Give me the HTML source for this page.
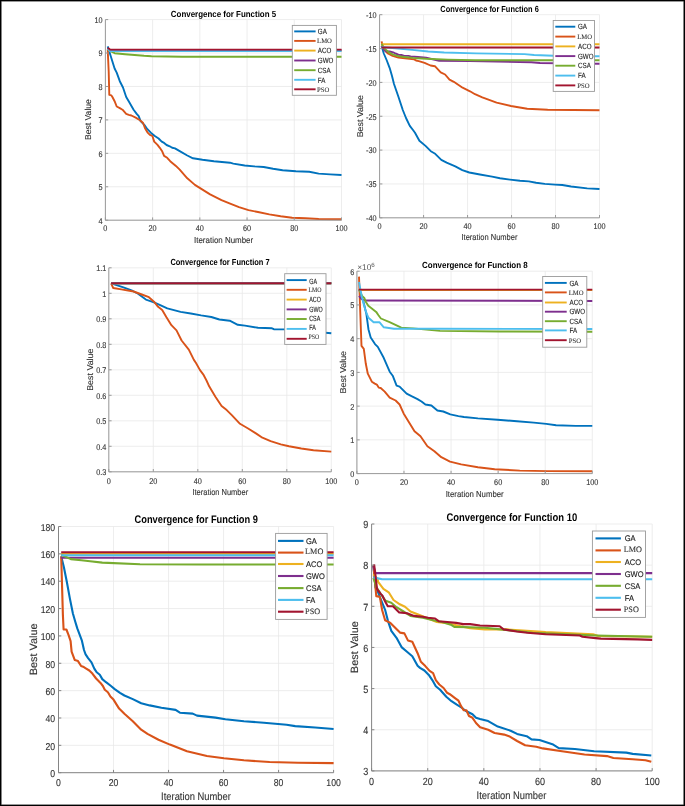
<!DOCTYPE html><html><head><meta charset="utf-8"><style>html,body{margin:0;padding:0;background:#fff}#fig{position:relative;width:685px;height:806px;overflow:hidden;background:#fff}#fig svg{position:absolute;left:0;top:0;text-rendering:geometricPrecision}#frame{position:absolute;left:0;top:0;width:685px;height:806px;box-sizing:border-box;border:1px solid #000;box-shadow:inset 0 0 0 0.6px #333}</style></head><body><div id="fig">
<svg width="685" height="806" viewBox="0 0 685 806" style="will-change:transform">
<g stroke="#e8e8e8" stroke-width="0.8" fill="none"><line x1="105.40" y1="19.60" x2="105.40" y2="220.20"/><line x1="152.62" y1="19.60" x2="152.62" y2="220.20"/><line x1="199.84" y1="19.60" x2="199.84" y2="220.20"/><line x1="247.06" y1="19.60" x2="247.06" y2="220.20"/><line x1="294.28" y1="19.60" x2="294.28" y2="220.20"/><line x1="341.50" y1="19.60" x2="341.50" y2="220.20"/><line x1="105.40" y1="220.20" x2="341.50" y2="220.20"/><line x1="105.40" y1="186.77" x2="341.50" y2="186.77"/><line x1="105.40" y1="153.33" x2="341.50" y2="153.33"/><line x1="105.40" y1="119.90" x2="341.50" y2="119.90"/><line x1="105.40" y1="86.47" x2="341.50" y2="86.47"/><line x1="105.40" y1="53.03" x2="341.50" y2="53.03"/><line x1="105.40" y1="19.60" x2="341.50" y2="19.60"/></g>
<path d="M107.7,46.4 L110.3,54.8 L114.6,68.5 L116.7,72.7 L119.8,81.2 L123.0,87.5 L126.2,97.0 L129.3,102.3 L133.6,109.7 L136.7,113.9 L138.7,116.2 L140.6,121.2 L144.3,124.9 L147.4,129.2 L151.1,132.9 L154.8,136.0 L158.6,138.5 L161.7,141.6 L164.1,142.9 L166.6,145.0 L169.7,146.3 L172.2,147.8 L175.0,148.4 L179.7,151.1 L187.3,155.5 L193.0,158.3 L202.5,159.8 L213.9,161.2 L230.0,162.7 L233.3,163.6 L244.7,165.5 L254.2,166.4 L263.7,167.0 L273.1,168.7 L282.6,170.2 L295.9,171.2 L309.2,171.7 L318.7,173.6 L330.1,174.4 L341.5,175.0" fill="none" stroke="#0072BD" stroke-width="1.9" stroke-linejoin="round" stroke-linecap="butt"/>
<path d="M107.7,49.5 L108.7,71.7 L109.3,94.9 L111.4,95.4 L112.4,97.0 L114.6,101.2 L116.7,106.5 L119.8,108.1 L122.5,109.7 L126.2,113.9 L128.8,114.9 L131.4,115.5 L135.7,117.6 L140.0,120.2 L143.1,123.0 L144.9,128.0 L147.4,132.3 L149.9,134.8 L152.4,136.0 L154.2,141.6 L157.3,144.7 L159.8,147.8 L162.3,151.6 L164.1,155.9 L167.2,157.8 L170.2,161.2 L175.9,165.9 L179.7,169.7 L187.3,178.3 L194.9,184.9 L202.5,189.6 L210.1,194.4 L221.5,200.1 L229.5,203.4 L239.0,207.2 L248.5,210.1 L258.0,212.0 L269.3,214.4 L280.7,216.2 L292.1,217.7 L305.4,218.2 L318.7,219.0 L341.5,219.2" fill="none" stroke="#D95319" stroke-width="1.9" stroke-linejoin="round" stroke-linecap="butt"/>
<path d="M107.7,49.0 L110.0,50.6 L341.5,50.6" fill="none" stroke="#EDB120" stroke-width="1.9" stroke-linejoin="round" stroke-linecap="butt"/>
<path d="M107.7,48.5 L110.0,50.2 L341.5,50.2" fill="none" stroke="#7E2F8E" stroke-width="1.9" stroke-linejoin="round" stroke-linecap="butt"/>
<path d="M107.7,49.5 L111.0,51.5 L114.6,53.2 L125.1,54.2 L144.1,55.8 L151.5,56.2 L182.2,56.8 L341.5,56.8" fill="none" stroke="#77AC30" stroke-width="1.9" stroke-linejoin="round" stroke-linecap="butt"/>
<path d="M107.7,48.5 L110.0,51.1 L341.5,51.1" fill="none" stroke="#4DBEEE" stroke-width="1.9" stroke-linejoin="round" stroke-linecap="butt"/>
<path d="M107.7,47.8 L110.0,49.6 L341.5,49.6" fill="none" stroke="#A2142F" stroke-width="1.9" stroke-linejoin="round" stroke-linecap="butt"/>
<g stroke="#9a9a9a" stroke-width="1" fill="none"><line x1="105.40" y1="19.60" x2="105.40" y2="220.20"/><line x1="105.40" y1="220.20" x2="341.50" y2="220.20"/><line x1="105.40" y1="220.20" x2="105.40" y2="217.40"/><line x1="152.62" y1="220.20" x2="152.62" y2="217.40"/><line x1="199.84" y1="220.20" x2="199.84" y2="217.40"/><line x1="247.06" y1="220.20" x2="247.06" y2="217.40"/><line x1="294.28" y1="220.20" x2="294.28" y2="217.40"/><line x1="341.50" y1="220.20" x2="341.50" y2="217.40"/><line x1="105.40" y1="220.20" x2="108.20" y2="220.20"/><line x1="105.40" y1="186.77" x2="108.20" y2="186.77"/><line x1="105.40" y1="153.33" x2="108.20" y2="153.33"/><line x1="105.40" y1="119.90" x2="108.20" y2="119.90"/><line x1="105.40" y1="86.47" x2="108.20" y2="86.47"/><line x1="105.40" y1="53.03" x2="108.20" y2="53.03"/><line x1="105.40" y1="19.60" x2="108.20" y2="19.60"/></g>
<g font-family='"Liberation Sans", sans-serif' font-size="8.3" fill="#333" stroke="#333" stroke-width="0.12"><text transform="translate(105.40,231.20) scale(0.88,1)" text-anchor="middle">0</text><text transform="translate(152.62,231.20) scale(0.88,1)" text-anchor="middle">20</text><text transform="translate(199.84,231.20) scale(0.88,1)" text-anchor="middle">40</text><text transform="translate(247.06,231.20) scale(0.88,1)" text-anchor="middle">60</text><text transform="translate(294.28,231.20) scale(0.88,1)" text-anchor="middle">80</text><text transform="translate(341.50,231.20) scale(0.88,1)" text-anchor="middle">100</text><text transform="translate(102.60,223.59) scale(0.88,1)" text-anchor="end">4</text><text transform="translate(102.60,190.15) scale(0.88,1)" text-anchor="end">5</text><text transform="translate(102.60,156.72) scale(0.88,1)" text-anchor="end">6</text><text transform="translate(102.60,123.29) scale(0.88,1)" text-anchor="end">7</text><text transform="translate(102.60,89.85) scale(0.88,1)" text-anchor="end">8</text><text transform="translate(102.60,56.42) scale(0.88,1)" text-anchor="end">9</text><text transform="translate(102.60,22.99) scale(0.88,1)" text-anchor="end">10</text></g>
<text x="223.50" y="17.00" text-anchor="middle" font-family='"Liberation Sans", sans-serif' font-weight="bold" font-size="8.8" fill="#000" textLength="105.4" lengthAdjust="spacingAndGlyphs">Convergence for Function 5</text>
<text x="223.60" y="242.70" text-anchor="middle" font-family='"Liberation Sans", sans-serif' font-size="8.6" fill="#333" stroke="#333" stroke-width="0.12" textLength="59.1" lengthAdjust="spacingAndGlyphs">Iteration Number</text>
<text transform="translate(90.70,119.60) rotate(-90)" x="0" y="0" text-anchor="middle" font-family='"Liberation Sans", sans-serif' font-size="8.6" fill="#333" stroke="#333" stroke-width="0.12" textLength="41.0" lengthAdjust="spacingAndGlyphs">Best Value</text>
<rect x="292.30" y="25.40" width="44.10" height="69.90" fill="#fff" stroke="#9a9a9a" stroke-width="0.9"/>
<line x1="294.20" y1="31.40" x2="315.60" y2="31.40" stroke="#0072BD" stroke-width="1.9"/>
<text transform="translate(317.80,34.14) scale(0.82,1)" font-family='"Liberation Sans", sans-serif' font-size="7.6" fill="#1a1a1a" stroke="#1a1a1a" stroke-width="0.12">GA</text>
<line x1="294.20" y1="40.90" x2="315.60" y2="40.90" stroke="#D95319" stroke-width="1.9"/>
<text transform="translate(317.10,43.24) scale(0.98,1)" font-family='"Liberation Serif", serif' font-size="6.8" fill="#333" stroke="#333" stroke-width="0.1">LMO</text>
<line x1="294.20" y1="50.60" x2="315.60" y2="50.60" stroke="#EDB120" stroke-width="1.9"/>
<text transform="translate(317.80,53.34) scale(0.82,1)" font-family='"Liberation Sans", sans-serif' font-size="7.6" fill="#1a1a1a" stroke="#1a1a1a" stroke-width="0.12">ACO</text>
<line x1="294.20" y1="60.50" x2="315.60" y2="60.50" stroke="#7E2F8E" stroke-width="1.9"/>
<text transform="translate(317.80,63.24) scale(0.82,1)" font-family='"Liberation Sans", sans-serif' font-size="7.6" fill="#1a1a1a" stroke="#1a1a1a" stroke-width="0.12">GWO</text>
<line x1="294.20" y1="70.20" x2="315.60" y2="70.20" stroke="#77AC30" stroke-width="1.9"/>
<text transform="translate(317.80,72.94) scale(0.82,1)" font-family='"Liberation Sans", sans-serif' font-size="7.6" fill="#1a1a1a" stroke="#1a1a1a" stroke-width="0.12">CSA</text>
<line x1="294.20" y1="79.80" x2="315.60" y2="79.80" stroke="#4DBEEE" stroke-width="1.9"/>
<text transform="translate(317.80,82.54) scale(0.82,1)" font-family='"Liberation Sans", sans-serif' font-size="7.6" fill="#1a1a1a" stroke="#1a1a1a" stroke-width="0.12">FA</text>
<line x1="294.20" y1="89.30" x2="315.60" y2="89.30" stroke="#A2142F" stroke-width="1.9"/>
<text transform="translate(317.10,91.64) scale(0.98,1)" font-family='"Liberation Serif", serif' font-size="6.8" fill="#333" stroke="#333" stroke-width="0.1">PSO</text>
<g stroke="#e8e8e8" stroke-width="0.8" fill="none"><line x1="379.60" y1="14.70" x2="379.60" y2="217.80"/><line x1="423.58" y1="14.70" x2="423.58" y2="217.80"/><line x1="467.56" y1="14.70" x2="467.56" y2="217.80"/><line x1="511.54" y1="14.70" x2="511.54" y2="217.80"/><line x1="555.52" y1="14.70" x2="555.52" y2="217.80"/><line x1="599.50" y1="14.70" x2="599.50" y2="217.80"/><line x1="379.60" y1="217.80" x2="599.50" y2="217.80"/><line x1="379.60" y1="183.95" x2="599.50" y2="183.95"/><line x1="379.60" y1="150.10" x2="599.50" y2="150.10"/><line x1="379.60" y1="116.25" x2="599.50" y2="116.25"/><line x1="379.60" y1="82.40" x2="599.50" y2="82.40"/><line x1="379.60" y1="48.55" x2="599.50" y2="48.55"/><line x1="379.60" y1="14.70" x2="599.50" y2="14.70"/></g>
<path d="M381.6,45.9 L383.8,53.5 L386.8,60.5 L389.7,68.1 L392.0,76.0 L394.0,84.0 L398.5,97.0 L402.8,110.0 L406.0,118.0 L409.8,125.8 L413.0,130.0 L415.0,132.8 L419.4,140.7 L425.5,145.9 L430.8,151.2 L435.2,153.8 L441.3,159.9 L446.6,162.6 L455.3,166.4 L462.3,170.1 L469.3,172.5 L479.9,174.5 L492.1,176.6 L500.0,178.3 L510.0,179.6 L520.0,180.7 L528.8,181.4 L536.1,182.8 L544.8,183.9 L555.0,184.6 L562.3,185.0 L571.1,186.5 L587.2,188.4 L599.5,189.0" fill="none" stroke="#0072BD" stroke-width="1.9" stroke-linejoin="round" stroke-linecap="butt"/>
<path d="M381.6,41.4 L382.7,46.5 L385.0,50.6 L387.9,53.5 L392.6,55.9 L398.4,57.6 L407.2,58.5 L414.2,59.4 L416.0,60.5 L418.8,61.1 L424.6,62.8 L430.5,65.5 L434.9,66.2 L440.7,72.3 L445.1,74.5 L449.5,79.6 L453.8,81.8 L462.6,87.7 L470.0,91.3 L475.0,94.2 L482.3,97.4 L496.6,102.6 L510.9,106.0 L527.2,108.7 L547.7,109.7 L599.5,110.3" fill="none" stroke="#D95319" stroke-width="1.9" stroke-linejoin="round" stroke-linecap="butt"/>
<path d="M381.6,44.3 L599.5,44.3" fill="none" stroke="#EDB120" stroke-width="1.9" stroke-linejoin="round" stroke-linecap="butt"/>
<path d="M381.6,45.9 L383.8,49.4 L385.6,51.2 L389.7,51.5 L393.2,52.4 L395.5,53.5 L398.4,54.7 L401.4,55.0 L404.3,55.9 L408.4,55.9 L410.7,56.4 L418.0,57.0 L426.1,57.7 L439.2,60.7 L470.0,61.1 L531.3,62.3 L540.0,63.0 L599.5,63.7" fill="none" stroke="#7E2F8E" stroke-width="1.9" stroke-linejoin="round" stroke-linecap="butt"/>
<path d="M381.6,44.0 L383.8,47.7 L386.8,50.6 L389.7,52.9 L393.2,54.7 L398.4,56.1 L404.3,57.0 L413.0,57.9 L418.0,58.2 L426.1,58.8 L448.0,59.6 L475.0,60.2 L599.5,60.2" fill="none" stroke="#77AC30" stroke-width="1.9" stroke-linejoin="round" stroke-linecap="butt"/>
<path d="M381.6,47.0 L395.0,48.3 L412.1,49.9 L428.2,51.5 L444.2,52.5 L476.3,53.4 L524.5,54.1 L534.1,55.0 L553.4,55.7 L590.0,55.7 L595.0,56.3 L599.5,56.3" fill="none" stroke="#4DBEEE" stroke-width="1.9" stroke-linejoin="round" stroke-linecap="butt"/>
<path d="M381.6,47.5 L599.5,47.5" fill="none" stroke="#A2142F" stroke-width="1.9" stroke-linejoin="round" stroke-linecap="butt"/>
<g stroke="#9a9a9a" stroke-width="1" fill="none"><line x1="379.60" y1="14.70" x2="379.60" y2="217.80"/><line x1="379.60" y1="217.80" x2="599.50" y2="217.80"/><line x1="379.60" y1="217.80" x2="379.60" y2="215.00"/><line x1="423.58" y1="217.80" x2="423.58" y2="215.00"/><line x1="467.56" y1="217.80" x2="467.56" y2="215.00"/><line x1="511.54" y1="217.80" x2="511.54" y2="215.00"/><line x1="555.52" y1="217.80" x2="555.52" y2="215.00"/><line x1="599.50" y1="217.80" x2="599.50" y2="215.00"/><line x1="379.60" y1="217.80" x2="382.40" y2="217.80"/><line x1="379.60" y1="183.95" x2="382.40" y2="183.95"/><line x1="379.60" y1="150.10" x2="382.40" y2="150.10"/><line x1="379.60" y1="116.25" x2="382.40" y2="116.25"/><line x1="379.60" y1="82.40" x2="382.40" y2="82.40"/><line x1="379.60" y1="48.55" x2="382.40" y2="48.55"/><line x1="379.60" y1="14.70" x2="382.40" y2="14.70"/></g>
<g font-family='"Liberation Sans", sans-serif' font-size="8.3" fill="#333" stroke="#333" stroke-width="0.12"><text transform="translate(379.60,228.80) scale(0.88,1)" text-anchor="middle">0</text><text transform="translate(423.58,228.80) scale(0.88,1)" text-anchor="middle">20</text><text transform="translate(467.56,228.80) scale(0.88,1)" text-anchor="middle">40</text><text transform="translate(511.54,228.80) scale(0.88,1)" text-anchor="middle">60</text><text transform="translate(555.52,228.80) scale(0.88,1)" text-anchor="middle">80</text><text transform="translate(599.50,228.80) scale(0.88,1)" text-anchor="middle">100</text><text transform="translate(376.60,221.19) scale(0.88,1)" text-anchor="end">-40</text><text transform="translate(376.60,187.34) scale(0.88,1)" text-anchor="end">-35</text><text transform="translate(376.60,153.49) scale(0.88,1)" text-anchor="end">-30</text><text transform="translate(376.60,119.64) scale(0.88,1)" text-anchor="end">-25</text><text transform="translate(376.60,85.79) scale(0.88,1)" text-anchor="end">-20</text><text transform="translate(376.60,51.94) scale(0.88,1)" text-anchor="end">-15</text><text transform="translate(376.60,18.09) scale(0.88,1)" text-anchor="end">-10</text></g>
<text x="489.60" y="12.10" text-anchor="middle" font-family='"Liberation Sans", sans-serif' font-weight="bold" font-size="8.8" fill="#000" textLength="98.5" lengthAdjust="spacingAndGlyphs">Convergence for Function 6</text>
<text x="489.50" y="240.00" text-anchor="middle" font-family='"Liberation Sans", sans-serif' font-size="8.6" fill="#333" stroke="#333" stroke-width="0.12" textLength="56.0" lengthAdjust="spacingAndGlyphs">Iteration Number</text>
<text transform="translate(363.10,116.25) rotate(-90)" x="0" y="0" text-anchor="middle" font-family='"Liberation Sans", sans-serif' font-size="8.6" fill="#333" stroke="#333" stroke-width="0.12" textLength="42.2" lengthAdjust="spacingAndGlyphs">Best Value</text>
<rect x="553.20" y="20.50" width="41.30" height="70.90" fill="#fff" stroke="#9a9a9a" stroke-width="0.9"/>
<line x1="555.30" y1="26.70" x2="575.30" y2="26.70" stroke="#0072BD" stroke-width="1.9"/>
<text transform="translate(578.00,29.44) scale(0.82,1)" font-family='"Liberation Sans", sans-serif' font-size="7.6" fill="#1a1a1a" stroke="#1a1a1a" stroke-width="0.12">GA</text>
<line x1="555.30" y1="36.60" x2="575.30" y2="36.60" stroke="#D95319" stroke-width="1.9"/>
<text transform="translate(577.30,38.94) scale(0.98,1)" font-family='"Liberation Serif", serif' font-size="6.8" fill="#333" stroke="#333" stroke-width="0.1">LMO</text>
<line x1="555.30" y1="46.40" x2="575.30" y2="46.40" stroke="#EDB120" stroke-width="1.9"/>
<text transform="translate(578.00,49.14) scale(0.82,1)" font-family='"Liberation Sans", sans-serif' font-size="7.6" fill="#1a1a1a" stroke="#1a1a1a" stroke-width="0.12">ACO</text>
<line x1="555.30" y1="56.10" x2="575.30" y2="56.10" stroke="#7E2F8E" stroke-width="1.9"/>
<text transform="translate(578.00,58.84) scale(0.82,1)" font-family='"Liberation Sans", sans-serif' font-size="7.6" fill="#1a1a1a" stroke="#1a1a1a" stroke-width="0.12">GWO</text>
<line x1="555.30" y1="65.70" x2="575.30" y2="65.70" stroke="#77AC30" stroke-width="1.9"/>
<text transform="translate(578.00,68.44) scale(0.82,1)" font-family='"Liberation Sans", sans-serif' font-size="7.6" fill="#1a1a1a" stroke="#1a1a1a" stroke-width="0.12">CSA</text>
<line x1="555.30" y1="75.60" x2="575.30" y2="75.60" stroke="#4DBEEE" stroke-width="1.9"/>
<text transform="translate(578.00,78.34) scale(0.82,1)" font-family='"Liberation Sans", sans-serif' font-size="7.6" fill="#1a1a1a" stroke="#1a1a1a" stroke-width="0.12">FA</text>
<line x1="555.30" y1="85.40" x2="575.30" y2="85.40" stroke="#A2142F" stroke-width="1.9"/>
<text transform="translate(577.30,87.74) scale(0.98,1)" font-family='"Liberation Serif", serif' font-size="6.8" fill="#333" stroke="#333" stroke-width="0.1">PSO</text>
<g stroke="#e8e8e8" stroke-width="0.8" fill="none"><line x1="108.80" y1="267.80" x2="108.80" y2="471.80"/><line x1="153.30" y1="267.80" x2="153.30" y2="471.80"/><line x1="197.80" y1="267.80" x2="197.80" y2="471.80"/><line x1="242.30" y1="267.80" x2="242.30" y2="471.80"/><line x1="286.80" y1="267.80" x2="286.80" y2="471.80"/><line x1="331.30" y1="267.80" x2="331.30" y2="471.80"/><line x1="108.80" y1="471.80" x2="331.30" y2="471.80"/><line x1="108.80" y1="446.30" x2="331.30" y2="446.30"/><line x1="108.80" y1="420.80" x2="331.30" y2="420.80"/><line x1="108.80" y1="395.30" x2="331.30" y2="395.30"/><line x1="108.80" y1="369.80" x2="331.30" y2="369.80"/><line x1="108.80" y1="344.30" x2="331.30" y2="344.30"/><line x1="108.80" y1="318.80" x2="331.30" y2="318.80"/><line x1="108.80" y1="293.30" x2="331.30" y2="293.30"/><line x1="108.80" y1="267.80" x2="331.30" y2="267.80"/></g>
<path d="M111.1,283.3 L117.3,285.3 L123.4,287.4 L131.6,290.4 L137.7,293.5 L145.9,299.6 L154.0,302.3 L160.2,305.2 L167.3,308.4 L180.6,311.9 L190.8,313.5 L201.1,315.4 L211.3,317.0 L219.4,319.5 L229.7,320.7 L237.8,324.8 L245.0,325.6 L258.0,327.8 L272.0,328.3 L273.8,329.2 L284.3,329.4 L325.5,332.7 L331.3,333.2" fill="none" stroke="#0072BD" stroke-width="1.9" stroke-linejoin="round" stroke-linecap="butt"/>
<path d="M111.1,283.3 L113.2,288.0 L121.3,289.4 L133.6,291.5 L141.8,294.5 L148.9,297.2 L154.0,301.7 L158.1,306.8 L162.2,309.9 L166.3,317.0 L171.4,325.2 L176.5,330.3 L181.6,340.5 L188.8,349.7 L193.9,359.9 L196.0,363.0 L200.0,370.1 L203.2,374.3 L206.5,380.5 L209.3,386.6 L215.4,396.8 L221.6,406.0 L226.7,410.1 L231.8,415.2 L240.0,423.8 L248.1,428.5 L256.3,433.6 L262.4,437.7 L270.6,441.2 L280.8,444.4 L289.0,446.2 L301.3,448.5 L313.5,450.3 L331.3,451.6" fill="none" stroke="#D95319" stroke-width="1.9" stroke-linejoin="round" stroke-linecap="butt"/>
<path d="M111.1,283.2 L331.3,283.2" fill="none" stroke="#EDB120" stroke-width="1.9" stroke-linejoin="round" stroke-linecap="butt"/>
<path d="M111.1,283.2 L331.3,283.2" fill="none" stroke="#7E2F8E" stroke-width="1.9" stroke-linejoin="round" stroke-linecap="butt"/>
<path d="M111.1,283.2 L331.3,283.2" fill="none" stroke="#77AC30" stroke-width="1.9" stroke-linejoin="round" stroke-linecap="butt"/>
<path d="M111.1,283.2 L331.3,283.2" fill="none" stroke="#4DBEEE" stroke-width="1.9" stroke-linejoin="round" stroke-linecap="butt"/>
<path d="M111.1,283.2 L331.3,283.2" fill="none" stroke="#A2142F" stroke-width="1.9" stroke-linejoin="round" stroke-linecap="butt"/>
<g stroke="#9a9a9a" stroke-width="1" fill="none"><line x1="108.80" y1="267.80" x2="108.80" y2="471.80"/><line x1="108.80" y1="471.80" x2="331.30" y2="471.80"/><line x1="108.80" y1="471.80" x2="108.80" y2="469.00"/><line x1="153.30" y1="471.80" x2="153.30" y2="469.00"/><line x1="197.80" y1="471.80" x2="197.80" y2="469.00"/><line x1="242.30" y1="471.80" x2="242.30" y2="469.00"/><line x1="286.80" y1="471.80" x2="286.80" y2="469.00"/><line x1="331.30" y1="471.80" x2="331.30" y2="469.00"/><line x1="108.80" y1="471.80" x2="111.60" y2="471.80"/><line x1="108.80" y1="446.30" x2="111.60" y2="446.30"/><line x1="108.80" y1="420.80" x2="111.60" y2="420.80"/><line x1="108.80" y1="395.30" x2="111.60" y2="395.30"/><line x1="108.80" y1="369.80" x2="111.60" y2="369.80"/><line x1="108.80" y1="344.30" x2="111.60" y2="344.30"/><line x1="108.80" y1="318.80" x2="111.60" y2="318.80"/><line x1="108.80" y1="293.30" x2="111.60" y2="293.30"/><line x1="108.80" y1="267.80" x2="111.60" y2="267.80"/></g>
<g font-family='"Liberation Sans", sans-serif' font-size="8.3" fill="#333" stroke="#333" stroke-width="0.12"><text transform="translate(108.80,483.50) scale(0.88,1)" text-anchor="middle">0</text><text transform="translate(153.30,483.50) scale(0.88,1)" text-anchor="middle">20</text><text transform="translate(197.80,483.50) scale(0.88,1)" text-anchor="middle">40</text><text transform="translate(242.30,483.50) scale(0.88,1)" text-anchor="middle">60</text><text transform="translate(286.80,483.50) scale(0.88,1)" text-anchor="middle">80</text><text transform="translate(331.30,483.50) scale(0.88,1)" text-anchor="middle">100</text><text transform="translate(106.30,475.19) scale(0.88,1)" text-anchor="end">0.3</text><text transform="translate(106.30,449.69) scale(0.88,1)" text-anchor="end">0.4</text><text transform="translate(106.30,424.19) scale(0.88,1)" text-anchor="end">0.5</text><text transform="translate(106.30,398.69) scale(0.88,1)" text-anchor="end">0.6</text><text transform="translate(106.30,373.19) scale(0.88,1)" text-anchor="end">0.7</text><text transform="translate(106.30,347.69) scale(0.88,1)" text-anchor="end">0.8</text><text transform="translate(106.30,322.19) scale(0.88,1)" text-anchor="end">0.9</text><text transform="translate(106.30,296.69) scale(0.88,1)" text-anchor="end">1</text><text transform="translate(106.30,271.19) scale(0.88,1)" text-anchor="end">1.1</text></g>
<text x="220.00" y="265.00" text-anchor="middle" font-family='"Liberation Sans", sans-serif' font-weight="bold" font-size="8.8" fill="#000" textLength="99.2" lengthAdjust="spacingAndGlyphs">Convergence for Function 7</text>
<text x="220.30" y="495.10" text-anchor="middle" font-family='"Liberation Sans", sans-serif' font-size="8.6" fill="#333" stroke="#333" stroke-width="0.12" textLength="55.8" lengthAdjust="spacingAndGlyphs">Iteration Number</text>
<text transform="translate(92.60,369.70) rotate(-90)" x="0" y="0" text-anchor="middle" font-family='"Liberation Sans", sans-serif' font-size="8.6" fill="#333" stroke="#333" stroke-width="0.12" textLength="42.2" lengthAdjust="spacingAndGlyphs">Best Value</text>
<rect x="284.70" y="273.70" width="41.30" height="70.70" fill="#fff" stroke="#9a9a9a" stroke-width="0.9"/>
<line x1="286.60" y1="280.10" x2="306.70" y2="280.10" stroke="#0072BD" stroke-width="1.9"/>
<text transform="translate(309.20,284.04) scale(0.71,1)" font-family='"Liberation Sans", sans-serif' font-size="7.6" fill="#1a1a1a" stroke="#1a1a1a" stroke-width="0.12">GA</text>
<line x1="286.60" y1="289.80" x2="306.70" y2="289.80" stroke="#D95319" stroke-width="1.9"/>
<text transform="translate(308.50,292.04) scale(0.86,1)" font-family='"Liberation Serif", serif' font-size="6.8" fill="#333" stroke="#333" stroke-width="0.1">LMO</text>
<line x1="286.60" y1="299.60" x2="306.70" y2="299.60" stroke="#EDB120" stroke-width="1.9"/>
<text transform="translate(309.20,302.24) scale(0.71,1)" font-family='"Liberation Sans", sans-serif' font-size="7.6" fill="#1a1a1a" stroke="#1a1a1a" stroke-width="0.12">ACO</text>
<line x1="286.60" y1="309.40" x2="306.70" y2="309.40" stroke="#7E2F8E" stroke-width="1.9"/>
<text transform="translate(309.20,311.54) scale(0.71,1)" font-family='"Liberation Sans", sans-serif' font-size="7.6" fill="#1a1a1a" stroke="#1a1a1a" stroke-width="0.12">GWO</text>
<line x1="286.60" y1="319.00" x2="306.70" y2="319.00" stroke="#77AC30" stroke-width="1.9"/>
<text transform="translate(309.20,321.04) scale(0.71,1)" font-family='"Liberation Sans", sans-serif' font-size="7.6" fill="#1a1a1a" stroke="#1a1a1a" stroke-width="0.12">CSA</text>
<line x1="286.60" y1="328.90" x2="306.70" y2="328.90" stroke="#4DBEEE" stroke-width="1.9"/>
<text transform="translate(309.20,330.34) scale(0.71,1)" font-family='"Liberation Sans", sans-serif' font-size="7.6" fill="#1a1a1a" stroke="#1a1a1a" stroke-width="0.12">FA</text>
<line x1="286.60" y1="338.80" x2="306.70" y2="338.80" stroke="#A2142F" stroke-width="1.9"/>
<text transform="translate(308.50,339.14) scale(0.86,1)" font-family='"Liberation Serif", serif' font-size="6.8" fill="#333" stroke="#333" stroke-width="0.1">PSO</text>
<g stroke="#e8e8e8" stroke-width="0.8" fill="none"><line x1="356.90" y1="271.20" x2="356.90" y2="473.60"/><line x1="403.98" y1="271.20" x2="403.98" y2="473.60"/><line x1="451.06" y1="271.20" x2="451.06" y2="473.60"/><line x1="498.14" y1="271.20" x2="498.14" y2="473.60"/><line x1="545.22" y1="271.20" x2="545.22" y2="473.60"/><line x1="592.30" y1="271.20" x2="592.30" y2="473.60"/><line x1="356.90" y1="473.60" x2="592.30" y2="473.60"/><line x1="356.90" y1="439.87" x2="592.30" y2="439.87"/><line x1="356.90" y1="406.13" x2="592.30" y2="406.13"/><line x1="356.90" y1="372.40" x2="592.30" y2="372.40"/><line x1="356.90" y1="338.67" x2="592.30" y2="338.67"/><line x1="356.90" y1="304.93" x2="592.30" y2="304.93"/><line x1="356.90" y1="271.20" x2="592.30" y2="271.20"/></g>
<path d="M359.0,289.3 L363.4,301.7 L366.3,313.4 L368.5,329.5 L370.7,337.5 L375.0,344.1 L377.8,346.9 L383.7,357.8 L389.7,371.7 L392.7,375.7 L396.6,385.6 L399.6,386.6 L406.6,393.6 L411.5,396.2 L417.5,399.1 L421.5,401.5 L425.4,404.5 L431.4,405.5 L437.4,410.5 L443.3,411.5 L450.3,414.4 L458.4,416.1 L464.0,417.0 L477.9,418.4 L497.5,419.8 L517.0,421.2 L533.8,422.6 L546.3,423.9 L556.1,425.3 L575.7,425.9 L592.3,425.9" fill="none" stroke="#0072BD" stroke-width="1.9" stroke-linejoin="round" stroke-linecap="butt"/>
<path d="M359.0,276.6 L360.9,330.0 L361.5,345.9 L363.8,348.9 L365.8,363.8 L367.8,373.7 L371.8,381.7 L374.8,383.6 L376.8,384.6 L378.7,387.6 L380.7,388.0 L384.7,391.6 L389.7,397.6 L395.6,400.5 L399.6,404.5 L403.6,413.4 L408.5,421.4 L414.5,431.3 L420.5,436.3 L427.4,446.2 L434.4,451.2 L441.3,457.2 L450.0,461.6 L461.2,464.4 L477.9,467.2 L494.7,469.2 L519.8,470.6 L547.7,471.1 L592.3,471.3" fill="none" stroke="#D95319" stroke-width="1.9" stroke-linejoin="round" stroke-linecap="butt"/>
<path d="M359.0,290.1 L592.3,290.1" fill="none" stroke="#EDB120" stroke-width="1.9" stroke-linejoin="round" stroke-linecap="butt"/>
<path d="M359.0,296.0 L361.3,298.8 L364.8,300.5 L592.3,301.0" fill="none" stroke="#7E2F8E" stroke-width="1.9" stroke-linejoin="round" stroke-linecap="butt"/>
<path d="M359.3,289.6 L362.1,296.0 L364.3,297.9 L365.6,301.4 L368.3,305.8 L371.8,308.4 L376.2,311.9 L378.3,315.0 L380.9,318.5 L389.6,322.2 L401.3,327.6 L413.0,328.4 L440.0,330.9 L500.0,331.5 L592.3,331.8" fill="none" stroke="#77AC30" stroke-width="1.9" stroke-linejoin="round" stroke-linecap="butt"/>
<path d="M359.0,282.0 L361.9,297.3 L365.5,310.5 L368.5,317.8 L373.6,322.2 L379.4,322.2 L383.8,327.3 L394.0,328.7 L440.0,328.7 L592.3,329.0" fill="none" stroke="#4DBEEE" stroke-width="1.9" stroke-linejoin="round" stroke-linecap="butt"/>
<path d="M359.0,289.6 L592.3,289.6" fill="none" stroke="#A2142F" stroke-width="1.9" stroke-linejoin="round" stroke-linecap="butt"/>
<g stroke="#9a9a9a" stroke-width="1" fill="none"><line x1="356.90" y1="271.20" x2="356.90" y2="473.60"/><line x1="356.90" y1="473.60" x2="592.30" y2="473.60"/><line x1="356.90" y1="473.60" x2="356.90" y2="470.80"/><line x1="403.98" y1="473.60" x2="403.98" y2="470.80"/><line x1="451.06" y1="473.60" x2="451.06" y2="470.80"/><line x1="498.14" y1="473.60" x2="498.14" y2="470.80"/><line x1="545.22" y1="473.60" x2="545.22" y2="470.80"/><line x1="592.30" y1="473.60" x2="592.30" y2="470.80"/><line x1="356.90" y1="473.60" x2="359.70" y2="473.60"/><line x1="356.90" y1="439.87" x2="359.70" y2="439.87"/><line x1="356.90" y1="406.13" x2="359.70" y2="406.13"/><line x1="356.90" y1="372.40" x2="359.70" y2="372.40"/><line x1="356.90" y1="338.67" x2="359.70" y2="338.67"/><line x1="356.90" y1="304.93" x2="359.70" y2="304.93"/><line x1="356.90" y1="271.20" x2="359.70" y2="271.20"/></g>
<g font-family='"Liberation Sans", sans-serif' font-size="8.3" fill="#333" stroke="#333" stroke-width="0.12"><text transform="translate(356.90,484.60) scale(0.88,1)" text-anchor="middle">0</text><text transform="translate(403.98,484.60) scale(0.88,1)" text-anchor="middle">20</text><text transform="translate(451.06,484.60) scale(0.88,1)" text-anchor="middle">40</text><text transform="translate(498.14,484.60) scale(0.88,1)" text-anchor="middle">60</text><text transform="translate(545.22,484.60) scale(0.88,1)" text-anchor="middle">80</text><text transform="translate(592.30,484.60) scale(0.88,1)" text-anchor="middle">100</text><text transform="translate(354.20,476.99) scale(0.88,1)" text-anchor="end">0</text><text transform="translate(354.20,443.25) scale(0.88,1)" text-anchor="end">1</text><text transform="translate(354.20,409.52) scale(0.88,1)" text-anchor="end">2</text><text transform="translate(354.20,375.79) scale(0.88,1)" text-anchor="end">3</text><text transform="translate(354.20,342.05) scale(0.88,1)" text-anchor="end">4</text><text transform="translate(354.20,308.32) scale(0.88,1)" text-anchor="end">5</text><text transform="translate(354.20,274.59) scale(0.88,1)" text-anchor="end">6</text></g>
<text x="357.20" y="269.60" font-family='"Liberation Sans", sans-serif' font-size="8.3" fill="#555">&#215;10<tspan dy="-3" font-size="6.23">6</tspan></text>
<text x="474.90" y="268.30" text-anchor="middle" font-family='"Liberation Sans", sans-serif' font-weight="bold" font-size="8.8" fill="#000" textLength="105.6" lengthAdjust="spacingAndGlyphs">Convergence for Function 8</text>
<text x="474.70" y="497.00" text-anchor="middle" font-family='"Liberation Sans", sans-serif' font-size="8.6" fill="#333" stroke="#333" stroke-width="0.12" textLength="58.0" lengthAdjust="spacingAndGlyphs">Iteration Number</text>
<text transform="translate(345.60,372.20) rotate(-90)" x="0" y="0" text-anchor="middle" font-family='"Liberation Sans", sans-serif' font-size="8.6" fill="#333" stroke="#333" stroke-width="0.12" textLength="42.6" lengthAdjust="spacingAndGlyphs">Best Value</text>
<rect x="542.70" y="276.50" width="44.10" height="70.70" fill="#fff" stroke="#9a9a9a" stroke-width="0.9"/>
<line x1="544.90" y1="282.90" x2="566.70" y2="282.90" stroke="#0072BD" stroke-width="1.9"/>
<text transform="translate(569.50,285.64) scale(0.82,1)" font-family='"Liberation Sans", sans-serif' font-size="7.6" fill="#1a1a1a" stroke="#1a1a1a" stroke-width="0.12">GA</text>
<line x1="544.90" y1="292.40" x2="566.70" y2="292.40" stroke="#D95319" stroke-width="1.9"/>
<text transform="translate(568.80,294.74) scale(0.98,1)" font-family='"Liberation Serif", serif' font-size="6.8" fill="#333" stroke="#333" stroke-width="0.1">LMO</text>
<line x1="544.90" y1="302.50" x2="566.70" y2="302.50" stroke="#EDB120" stroke-width="1.9"/>
<text transform="translate(569.50,305.24) scale(0.82,1)" font-family='"Liberation Sans", sans-serif' font-size="7.6" fill="#1a1a1a" stroke="#1a1a1a" stroke-width="0.12">ACO</text>
<line x1="544.90" y1="311.70" x2="566.70" y2="311.70" stroke="#7E2F8E" stroke-width="1.9"/>
<text transform="translate(569.50,314.44) scale(0.82,1)" font-family='"Liberation Sans", sans-serif' font-size="7.6" fill="#1a1a1a" stroke="#1a1a1a" stroke-width="0.12">GWO</text>
<line x1="544.90" y1="321.20" x2="566.70" y2="321.20" stroke="#77AC30" stroke-width="1.9"/>
<text transform="translate(569.50,323.94) scale(0.82,1)" font-family='"Liberation Sans", sans-serif' font-size="7.6" fill="#1a1a1a" stroke="#1a1a1a" stroke-width="0.12">CSA</text>
<line x1="544.90" y1="330.40" x2="566.70" y2="330.40" stroke="#4DBEEE" stroke-width="1.9"/>
<text transform="translate(569.50,333.14) scale(0.82,1)" font-family='"Liberation Sans", sans-serif' font-size="7.6" fill="#1a1a1a" stroke="#1a1a1a" stroke-width="0.12">FA</text>
<line x1="544.90" y1="340.20" x2="566.70" y2="340.20" stroke="#A2142F" stroke-width="1.9"/>
<text transform="translate(568.80,342.54) scale(0.98,1)" font-family='"Liberation Serif", serif' font-size="6.8" fill="#333" stroke="#333" stroke-width="0.1">PSO</text>
<g stroke="#e8e8e8" stroke-width="0.8" fill="none"><line x1="58.50" y1="526.50" x2="58.50" y2="772.70"/><line x1="113.52" y1="526.50" x2="113.52" y2="772.70"/><line x1="168.54" y1="526.50" x2="168.54" y2="772.70"/><line x1="223.56" y1="526.50" x2="223.56" y2="772.70"/><line x1="278.58" y1="526.50" x2="278.58" y2="772.70"/><line x1="333.60" y1="526.50" x2="333.60" y2="772.70"/><line x1="58.50" y1="772.70" x2="333.60" y2="772.70"/><line x1="58.50" y1="745.34" x2="333.60" y2="745.34"/><line x1="58.50" y1="717.99" x2="333.60" y2="717.99"/><line x1="58.50" y1="690.63" x2="333.60" y2="690.63"/><line x1="58.50" y1="663.28" x2="333.60" y2="663.28"/><line x1="58.50" y1="635.92" x2="333.60" y2="635.92"/><line x1="58.50" y1="608.57" x2="333.60" y2="608.57"/><line x1="58.50" y1="581.21" x2="333.60" y2="581.21"/><line x1="58.50" y1="553.86" x2="333.60" y2="553.86"/><line x1="58.50" y1="526.50" x2="333.60" y2="526.50"/></g>
<path d="M61.2,556.2 L63.9,567.3 L66.9,582.2 L69.9,598.6 L72.9,613.5 L75.2,621.5 L77.3,628.4 L81.8,640.3 L84.0,650.0 L85.6,654.3 L88.1,658.1 L91.5,662.4 L94.3,668.6 L96.7,672.3 L99.8,674.8 L102.3,679.1 L106.0,682.2 L111.0,686.0 L114.7,689.1 L120.0,692.8 L124.4,695.5 L132.8,699.1 L141.2,703.3 L149.7,705.4 L161.4,707.8 L175.6,709.9 L179.9,712.7 L192.7,713.6 L197.0,715.6 L215.5,717.6 L225.4,719.3 L243.9,721.3 L263.9,722.7 L286.6,724.7 L295.2,726.1 L315.1,727.5 L333.6,729.0" fill="none" stroke="#0072BD" stroke-width="2.1" stroke-linejoin="round" stroke-linecap="butt"/>
<path d="M61.2,556.4 L62.9,615.1 L63.6,629.5 L66.4,629.5 L68.5,634.8 L70.6,641.1 L71.6,651.6 L74.8,660.1 L78.0,661.1 L81.1,666.0 L83.1,666.7 L86.2,668.6 L89.3,670.5 L92.4,673.6 L96.1,678.5 L100.5,682.9 L102.9,686.0 L104.8,689.7 L107.9,692.2 L110.4,696.5 L113.5,699.6 L119.1,708.6 L124.4,713.8 L132.8,721.2 L141.2,729.7 L147.5,733.9 L158.5,739.8 L169.9,744.6 L187.0,751.2 L206.9,756.0 L224.0,758.3 L243.9,760.3 L269.6,762.0 L298.0,762.8 L333.6,763.1" fill="none" stroke="#D95319" stroke-width="2.1" stroke-linejoin="round" stroke-linecap="butt"/>
<path d="M61.2,553.7 L333.6,553.7" fill="none" stroke="#EDB120" stroke-width="2.1" stroke-linejoin="round" stroke-linecap="butt"/>
<path d="M61.2,557.8 L333.6,557.8" fill="none" stroke="#7E2F8E" stroke-width="2.1" stroke-linejoin="round" stroke-linecap="butt"/>
<path d="M61.2,554.7 L70.8,559.1 L81.3,560.3 L90.1,561.3 L102.3,562.6 L140.0,564.3 L200.0,564.5 L333.6,564.5" fill="none" stroke="#77AC30" stroke-width="2.1" stroke-linejoin="round" stroke-linecap="butt"/>
<path d="M61.2,555.2 L333.6,555.2" fill="none" stroke="#4DBEEE" stroke-width="2.1" stroke-linejoin="round" stroke-linecap="butt"/>
<path d="M61.2,552.2 L333.6,552.2" fill="none" stroke="#A2142F" stroke-width="2.1" stroke-linejoin="round" stroke-linecap="butt"/>
<g stroke="#858585" stroke-width="1" fill="none"><line x1="58.50" y1="526.50" x2="58.50" y2="772.70"/><line x1="58.50" y1="772.70" x2="333.60" y2="772.70"/><line x1="58.50" y1="772.70" x2="58.50" y2="769.90"/><line x1="113.52" y1="772.70" x2="113.52" y2="769.90"/><line x1="168.54" y1="772.70" x2="168.54" y2="769.90"/><line x1="223.56" y1="772.70" x2="223.56" y2="769.90"/><line x1="278.58" y1="772.70" x2="278.58" y2="769.90"/><line x1="333.60" y1="772.70" x2="333.60" y2="769.90"/><line x1="58.50" y1="772.70" x2="61.30" y2="772.70"/><line x1="58.50" y1="745.34" x2="61.30" y2="745.34"/><line x1="58.50" y1="717.99" x2="61.30" y2="717.99"/><line x1="58.50" y1="690.63" x2="61.30" y2="690.63"/><line x1="58.50" y1="663.28" x2="61.30" y2="663.28"/><line x1="58.50" y1="635.92" x2="61.30" y2="635.92"/><line x1="58.50" y1="608.57" x2="61.30" y2="608.57"/><line x1="58.50" y1="581.21" x2="61.30" y2="581.21"/><line x1="58.50" y1="553.86" x2="61.30" y2="553.86"/><line x1="58.50" y1="526.50" x2="61.30" y2="526.50"/></g>
<g font-family='"Liberation Sans", sans-serif' font-size="9.9" fill="#333" stroke="#333" stroke-width="0.12"><text transform="translate(58.50,785.60) scale(0.88,1)" text-anchor="middle">0</text><text transform="translate(113.52,785.60) scale(0.88,1)" text-anchor="middle">20</text><text transform="translate(168.54,785.60) scale(0.88,1)" text-anchor="middle">40</text><text transform="translate(223.56,785.60) scale(0.88,1)" text-anchor="middle">60</text><text transform="translate(278.58,785.60) scale(0.88,1)" text-anchor="middle">80</text><text transform="translate(333.60,785.60) scale(0.88,1)" text-anchor="middle">100</text><text transform="translate(55.20,776.96) scale(0.88,1)" text-anchor="end">0</text><text transform="translate(55.20,749.61) scale(0.88,1)" text-anchor="end">20</text><text transform="translate(55.20,722.25) scale(0.88,1)" text-anchor="end">40</text><text transform="translate(55.20,694.90) scale(0.88,1)" text-anchor="end">60</text><text transform="translate(55.20,667.54) scale(0.88,1)" text-anchor="end">80</text><text transform="translate(55.20,640.19) scale(0.88,1)" text-anchor="end">100</text><text transform="translate(55.20,612.83) scale(0.88,1)" text-anchor="end">120</text><text transform="translate(55.20,585.48) scale(0.88,1)" text-anchor="end">140</text><text transform="translate(55.20,558.12) scale(0.88,1)" text-anchor="end">160</text><text transform="translate(55.20,530.76) scale(0.88,1)" text-anchor="end">180</text></g>
<text x="196.20" y="523.40" text-anchor="middle" font-family='"Liberation Sans", sans-serif' font-weight="bold" font-size="11.0" fill="#000" textLength="123.3" lengthAdjust="spacingAndGlyphs">Convergence for Function 9</text>
<text x="196.00" y="799.90" text-anchor="middle" font-family='"Liberation Sans", sans-serif' font-size="10.8" fill="#333" stroke="#333" stroke-width="0.12" textLength="69.8" lengthAdjust="spacingAndGlyphs">Iteration Number</text>
<text transform="translate(37.00,649.40) rotate(-90)" x="0" y="0" text-anchor="middle" font-family='"Liberation Sans", sans-serif' font-size="10.6" fill="#333" stroke="#333" stroke-width="0.12" textLength="51.9" lengthAdjust="spacingAndGlyphs">Best Value</text>
<rect x="275.60" y="533.40" width="51.50" height="86.00" fill="#fff" stroke="#9a9a9a" stroke-width="0.9"/>
<line x1="278.00" y1="540.90" x2="303.50" y2="540.90" stroke="#0072BD" stroke-width="2.1"/>
<text transform="translate(306.00,543.85) scale(0.92,1)" font-family='"Liberation Sans", sans-serif' font-size="8.2" fill="#1a1a1a" stroke="#1a1a1a" stroke-width="0.12">GA</text>
<line x1="278.00" y1="552.60" x2="303.50" y2="552.60" stroke="#D95319" stroke-width="2.1"/>
<text transform="translate(305.10,554.45) scale(1.0,1)" font-family='"Liberation Serif", serif' font-size="8.2" fill="#333" stroke="#333" stroke-width="0.1">LMO</text>
<line x1="278.00" y1="564.00" x2="303.50" y2="564.00" stroke="#EDB120" stroke-width="2.1"/>
<text transform="translate(306.00,566.95) scale(0.92,1)" font-family='"Liberation Sans", sans-serif' font-size="8.2" fill="#1a1a1a" stroke="#1a1a1a" stroke-width="0.12">ACO</text>
<line x1="278.00" y1="576.00" x2="303.50" y2="576.00" stroke="#7E2F8E" stroke-width="2.1"/>
<text transform="translate(306.00,578.95) scale(0.92,1)" font-family='"Liberation Sans", sans-serif' font-size="8.2" fill="#1a1a1a" stroke="#1a1a1a" stroke-width="0.12">GWO</text>
<line x1="278.00" y1="588.10" x2="303.50" y2="588.10" stroke="#77AC30" stroke-width="2.1"/>
<text transform="translate(306.00,591.05) scale(0.92,1)" font-family='"Liberation Sans", sans-serif' font-size="8.2" fill="#1a1a1a" stroke="#1a1a1a" stroke-width="0.12">CSA</text>
<line x1="278.00" y1="599.90" x2="303.50" y2="599.90" stroke="#4DBEEE" stroke-width="2.1"/>
<text transform="translate(306.00,602.85) scale(0.92,1)" font-family='"Liberation Sans", sans-serif' font-size="8.2" fill="#1a1a1a" stroke="#1a1a1a" stroke-width="0.12">FA</text>
<line x1="278.00" y1="611.70" x2="303.50" y2="611.70" stroke="#A2142F" stroke-width="2.1"/>
<text transform="translate(305.10,613.55) scale(1.0,1)" font-family='"Liberation Serif", serif' font-size="8.2" fill="#333" stroke="#333" stroke-width="0.1">PSO</text>
<g stroke="#e8e8e8" stroke-width="0.8" fill="none"><line x1="371.60" y1="524.00" x2="371.60" y2="770.90"/><line x1="427.72" y1="524.00" x2="427.72" y2="770.90"/><line x1="483.84" y1="524.00" x2="483.84" y2="770.90"/><line x1="539.96" y1="524.00" x2="539.96" y2="770.90"/><line x1="596.08" y1="524.00" x2="596.08" y2="770.90"/><line x1="652.20" y1="524.00" x2="652.20" y2="770.90"/><line x1="371.60" y1="770.90" x2="652.20" y2="770.90"/><line x1="371.60" y1="729.75" x2="652.20" y2="729.75"/><line x1="371.60" y1="688.60" x2="652.20" y2="688.60"/><line x1="371.60" y1="647.45" x2="652.20" y2="647.45"/><line x1="371.60" y1="606.30" x2="652.20" y2="606.30"/><line x1="371.60" y1="565.15" x2="652.20" y2="565.15"/><line x1="371.60" y1="524.00" x2="652.20" y2="524.00"/></g>
<path d="M373.4,566.0 L375.5,587.4 L378.1,592.3 L380.8,599.3 L385.1,609.8 L387.8,620.3 L391.3,630.8 L396.5,637.8 L401.8,647.4 L407.0,651.8 L412.3,656.2 L417.6,665.8 L420.0,667.9 L424.4,670.5 L428.8,674.9 L432.3,680.1 L435.8,686.3 L440.1,689.8 L446.3,696.8 L451.5,701.2 L456.8,704.7 L461.2,707.3 L465.5,710.8 L469.0,712.5 L472.5,714.3 L476.0,717.8 L480.0,719.1 L488.2,721.1 L497.8,726.6 L510.6,730.7 L517.1,733.9 L526.7,736.2 L531.5,739.4 L539.5,740.0 L552.4,744.2 L558.8,748.1 L574.9,749.0 L594.1,751.3 L626.3,752.6 L632.7,753.9 L651.3,755.5" fill="none" stroke="#0072BD" stroke-width="2.1" stroke-linejoin="round" stroke-linecap="butt"/>
<path d="M373.4,565.5 L376.3,596.1 L379.0,596.6 L380.0,597.6 L382.1,610.0 L385.1,620.3 L390.4,622.9 L400.0,632.6 L404.4,633.4 L407.9,640.4 L412.3,641.8 L417.6,653.2 L420.9,661.8 L425.3,666.1 L429.6,670.9 L433.1,673.1 L435.8,680.1 L439.3,684.5 L443.6,688.0 L447.1,692.8 L449.8,694.2 L455.0,698.1 L458.5,700.7 L461.2,706.4 L463.8,710.3 L466.4,710.3 L469.0,716.0 L472.5,717.8 L476.0,723.0 L480.1,727.3 L488.2,729.8 L494.6,733.0 L504.2,734.6 L509.0,736.2 L517.1,741.0 L525.1,745.2 L536.3,746.8 L542.8,748.4 L562.0,751.3 L584.5,754.5 L607.0,756.1 L613.4,758.0 L632.7,759.3 L645.5,760.2 L651.3,761.8" fill="none" stroke="#D95319" stroke-width="2.1" stroke-linejoin="round" stroke-linecap="butt"/>
<path d="M373.4,574.2 L377.7,579.3 L378.1,581.8 L383.4,588.8 L388.7,592.3 L393.5,600.0 L399.8,604.3 L405.0,606.8 L410.5,611.5 L417.6,614.2 L426.3,617.7 L436.8,622.0 L449.1,623.4 L461.4,626.4 L470.1,628.2 L485.0,629.4 L506.3,629.4 L545.7,632.1 L593.0,634.2 L598.2,636.0 L652.2,636.8" fill="none" stroke="#EDB120" stroke-width="2.1" stroke-linejoin="round" stroke-linecap="butt"/>
<path d="M373.4,566.0 L375.5,573.1 L652.2,573.1" fill="none" stroke="#7E2F8E" stroke-width="2.1" stroke-linejoin="round" stroke-linecap="butt"/>
<path d="M373.4,577.9 L376.4,587.0 L380.8,594.0 L385.5,600.7 L391.3,602.8 L396.5,607.2 L403.5,611.5 L410.5,615.9 L422.8,617.7 L433.3,620.3 L442.1,622.0 L450.8,624.7 L454.3,626.9 L470.1,627.3 L485.0,627.7 L532.5,632.8 L595.6,635.5 L652.2,636.8" fill="none" stroke="#77AC30" stroke-width="2.1" stroke-linejoin="round" stroke-linecap="butt"/>
<path d="M373.4,577.4 L382.1,579.3 L652.2,579.3" fill="none" stroke="#4DBEEE" stroke-width="2.1" stroke-linejoin="round" stroke-linecap="butt"/>
<path d="M374.1,564.3 L375.5,575.7 L377.0,588.8 L378.1,590.5 L380.7,593.9 L382.5,595.8 L385.0,601.2 L387.8,606.3 L393.0,606.3 L396.7,610.0 L399.2,612.4 L407.0,613.3 L414.1,615.9 L422.8,616.8 L428.1,617.7 L435.1,618.5 L438.6,621.2 L447.3,622.0 L456.1,622.9 L463.1,624.1 L470.1,624.1 L480.0,625.5 L499.7,626.3 L503.6,629.4 L516.8,631.5 L527.3,632.8 L545.7,634.2 L579.8,635.5 L582.5,636.8 L595.6,638.1 L600.9,638.6 L637.6,639.4 L652.2,639.9" fill="none" stroke="#A2142F" stroke-width="2.1" stroke-linejoin="round" stroke-linecap="butt"/>
<g stroke="#858585" stroke-width="1" fill="none"><line x1="371.60" y1="524.00" x2="371.60" y2="770.90"/><line x1="371.60" y1="770.90" x2="652.20" y2="770.90"/><line x1="371.60" y1="770.90" x2="371.60" y2="768.10"/><line x1="427.72" y1="770.90" x2="427.72" y2="768.10"/><line x1="483.84" y1="770.90" x2="483.84" y2="768.10"/><line x1="539.96" y1="770.90" x2="539.96" y2="768.10"/><line x1="596.08" y1="770.90" x2="596.08" y2="768.10"/><line x1="652.20" y1="770.90" x2="652.20" y2="768.10"/><line x1="371.60" y1="770.90" x2="374.40" y2="770.90"/><line x1="371.60" y1="729.75" x2="374.40" y2="729.75"/><line x1="371.60" y1="688.60" x2="374.40" y2="688.60"/><line x1="371.60" y1="647.45" x2="374.40" y2="647.45"/><line x1="371.60" y1="606.30" x2="374.40" y2="606.30"/><line x1="371.60" y1="565.15" x2="374.40" y2="565.15"/><line x1="371.60" y1="524.00" x2="374.40" y2="524.00"/></g>
<g font-family='"Liberation Sans", sans-serif' font-size="10.4" fill="#333" stroke="#333" stroke-width="0.12"><text transform="translate(371.60,784.90) scale(0.87,1)" text-anchor="middle">0</text><text transform="translate(427.72,784.90) scale(0.87,1)" text-anchor="middle">20</text><text transform="translate(483.84,784.90) scale(0.87,1)" text-anchor="middle">40</text><text transform="translate(539.96,784.90) scale(0.87,1)" text-anchor="middle">60</text><text transform="translate(596.08,784.90) scale(0.87,1)" text-anchor="middle">80</text><text transform="translate(652.20,784.90) scale(0.87,1)" text-anchor="middle">100</text><text transform="translate(368.20,775.14) scale(0.87,1)" text-anchor="end">3</text><text transform="translate(368.20,733.99) scale(0.87,1)" text-anchor="end">4</text><text transform="translate(368.20,692.84) scale(0.87,1)" text-anchor="end">5</text><text transform="translate(368.20,651.69) scale(0.87,1)" text-anchor="end">6</text><text transform="translate(368.20,610.54) scale(0.87,1)" text-anchor="end">7</text><text transform="translate(368.20,569.39) scale(0.87,1)" text-anchor="end">8</text><text transform="translate(368.20,528.24) scale(0.87,1)" text-anchor="end">9</text></g>
<text x="511.80" y="521.40" text-anchor="middle" font-family='"Liberation Sans", sans-serif' font-weight="bold" font-size="11.0" fill="#000" textLength="130.8" lengthAdjust="spacingAndGlyphs">Convergence for Function 10</text>
<text x="511.50" y="798.70" text-anchor="middle" font-family='"Liberation Sans", sans-serif' font-size="10.8" fill="#333" stroke="#333" stroke-width="0.12" textLength="69.8" lengthAdjust="spacingAndGlyphs">Iteration Number</text>
<text transform="translate(358.30,647.20) rotate(-90)" x="0" y="0" text-anchor="middle" font-family='"Liberation Sans", sans-serif' font-size="10.6" fill="#333" stroke="#333" stroke-width="0.12" textLength="51.9" lengthAdjust="spacingAndGlyphs">Best Value</text>
<rect x="592.40" y="531.00" width="53.10" height="86.40" fill="#fff" stroke="#9a9a9a" stroke-width="0.9"/>
<line x1="595.50" y1="538.40" x2="620.90" y2="538.40" stroke="#0072BD" stroke-width="2.1"/>
<text transform="translate(624.70,541.35) scale(0.92,1)" font-family='"Liberation Sans", sans-serif' font-size="8.2" fill="#1a1a1a" stroke="#1a1a1a" stroke-width="0.12">GA</text>
<line x1="595.50" y1="550.40" x2="620.90" y2="550.40" stroke="#D95319" stroke-width="2.1"/>
<text transform="translate(623.80,552.25) scale(1.0,1)" font-family='"Liberation Serif", serif' font-size="8.2" fill="#333" stroke="#333" stroke-width="0.1">LMO</text>
<line x1="595.50" y1="562.00" x2="620.90" y2="562.00" stroke="#EDB120" stroke-width="2.1"/>
<text transform="translate(624.70,564.95) scale(0.92,1)" font-family='"Liberation Sans", sans-serif' font-size="8.2" fill="#1a1a1a" stroke="#1a1a1a" stroke-width="0.12">ACO</text>
<line x1="595.50" y1="574.00" x2="620.90" y2="574.00" stroke="#7E2F8E" stroke-width="2.1"/>
<text transform="translate(624.70,576.95) scale(0.92,1)" font-family='"Liberation Sans", sans-serif' font-size="8.2" fill="#1a1a1a" stroke="#1a1a1a" stroke-width="0.12">GWO</text>
<line x1="595.50" y1="585.80" x2="620.90" y2="585.80" stroke="#77AC30" stroke-width="2.1"/>
<text transform="translate(624.70,588.75) scale(0.92,1)" font-family='"Liberation Sans", sans-serif' font-size="8.2" fill="#1a1a1a" stroke="#1a1a1a" stroke-width="0.12">CSA</text>
<line x1="595.50" y1="597.80" x2="620.90" y2="597.80" stroke="#4DBEEE" stroke-width="2.1"/>
<text transform="translate(624.70,600.75) scale(0.92,1)" font-family='"Liberation Sans", sans-serif' font-size="8.2" fill="#1a1a1a" stroke="#1a1a1a" stroke-width="0.12">FA</text>
<line x1="595.50" y1="609.70" x2="620.90" y2="609.70" stroke="#A2142F" stroke-width="2.1"/>
<text transform="translate(623.80,611.55) scale(1.0,1)" font-family='"Liberation Serif", serif' font-size="8.2" fill="#333" stroke="#333" stroke-width="0.1">PSO</text>
</svg><div id="frame"></div></div></body></html>
